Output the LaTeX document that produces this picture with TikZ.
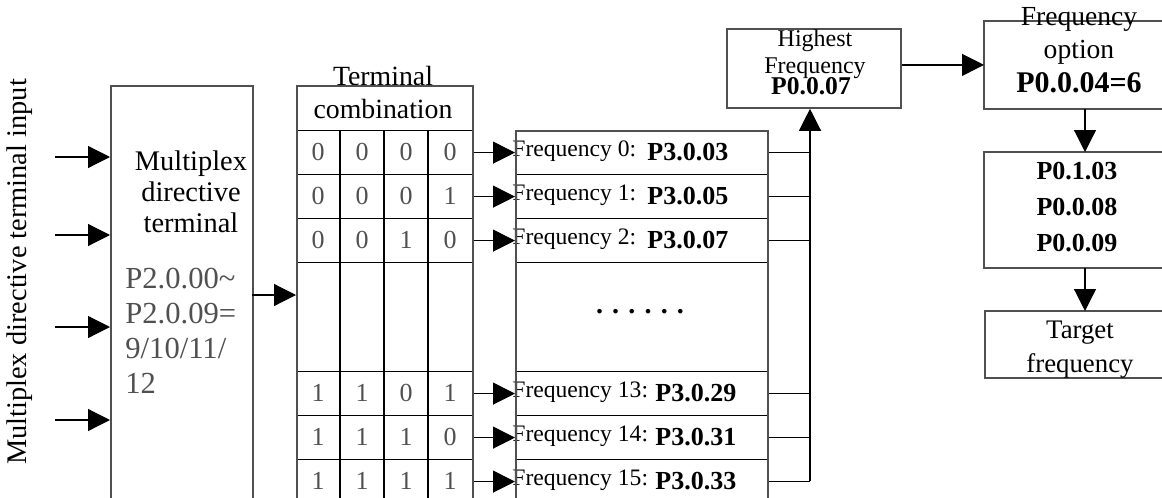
\documentclass[tikz,border=0pt]{standalone}
\usepackage{fontspec}
\setmainfont{Liberation Serif}
\usepackage{tikz}
\usetikzlibrary{positioning}
\usetikzlibrary{calc}
\usetikzlibrary{arrows.meta}

\definecolor{boxgray}{RGB}{80,80,80}
\definecolor{txtgray}{RGB}{80,80,80}

\begin{document}
\begin{tikzpicture}[x=0.5pt, y=-0.5pt,
    box/.style={draw=boxgray, line width=0.9pt, inner sep=0pt, anchor=north west},
    openbox/.style={inner sep=0pt, anchor=north west, minimum width=150pt},
    cell/.style={draw=black, line width=0.6pt, inner sep=0pt, anchor=north west, minimum width=88pt},
    arr/.style={-{Triangle[length=11pt,width=11pt]}, line width=0.6pt},
    digit/.style={text=txtgray, font=\fontsize{13}{14}\selectfont},
    freqlbl/.style={anchor=west, inner sep=0pt, font=\fontsize{11.8}{13}\selectfont},
    freqval/.style={anchor=west, inner sep=0pt, font=\fontsize{13}{14}\selectfont\bfseries}]

    \useasboundingbox (0,0) rectangle (1162,498);
    \clip (0,0) rectangle (1162,498);

    % inputs
    \node[rotate=90, font=\fontsize{14.2}{16}\selectfont] (inlbl) at (20,272) {Multiplex directive terminal input};
    \node[box, minimum width=71pt, minimum height=220pt] (mux) at (110,85) {};
    \foreach \y [count=\i] in {157,235,327,420} {
        \coordinate (in\i) at (55,\y);
        \draw[arr] (in\i) -- (in\i -| mux.west);
    }
    \node[align=center, font=\fontsize{14.2}{15.5}\selectfont] (muxname) at (191,192) {Multiplex\\directive\\terminal};
    \node[align=left, anchor=north west, inner sep=0pt, text=txtgray, font=\fontsize{15.3}{17.5}\selectfont] (muxpar) at (125,268) {P2.0.00\textasciitilde\\P2.0.09=\\9/10/11/\\12};

    % terminal combination table
    \node[cell, minimum height=22.5pt] (thead) at (296,85) {};
    \node[align=center, font=\fontsize{13.9}{16.5}\selectfont] (theadlbl) at (383,92) {Terminal\\combination};
    \node[cell, minimum height=54.5pt] (tg) at (296,262) {};
    \node[cell, minimum width=126pt, minimum height=54.5pt] (fg) at (515,262) {};
    \node[font=\fontsize{14}{15}\selectfont\bfseries] (dots) at (640,312) {.\hspace{4.6pt}.\hspace{4.6pt}.\hspace{4.6pt}.\hspace{4.6pt}.\hspace{4.6pt}.};
    \coordinate (bus) at (810,481);

    \foreach \r/\top/\bits/\v/\vx in {0/130/{0,0,0,0}/03/647, 1/174/{0,0,0,1}/05/647, 2/218/{0,0,1,0}/07/647,
                                     13/371/{1,1,0,1}/29/655, 14/415/{1,1,1,0}/31/655, 15/459/{1,1,1,1}/33/655} {
        \node[cell, minimum height=22pt] (t\r) at (296,\top) {};
        \node[cell, minimum width=126pt, minimum height=22pt] (f\r) at (515,\top) {};
        \foreach \b [count=\c] in \bits
            \node[digit] at ({274+44*\c},{\top+22}) {\b};
        \draw[arr] (t\r.east) -- (f\r.west);
        \node[freqlbl] (fl\r) at (512,{\top+21}) {Frequency \r:};
        \node[freqval] (fv\r) at (\vx,{\top+22}) {P3.0.\v};
        \draw[line width=0.6pt] (f\r.east) -- (f\r.east -| bus);
    }
    \foreach \x in {340,384,428}
        \draw[line width=0.6pt] (\x,130) -- (\x,520);
    \node[box, minimum width=88pt, minimum height=220pt] (tab) at (296,85) {};
    \node[box, minimum width=126pt, minimum height=200pt] (freq) at (515,130) {};

    \coordinate (muxout) at (252,295);
    \draw[arr] (muxout) -- (muxout -| tab.west);

    % right side
    \node[box, minimum width=87pt, minimum height=39.5pt] (hi) at (726,28) {};
    \node[align=center, font=\fontsize{12}{13.5}\selectfont] (hilbl) at (815,54) {Highest\\Frequency};
    \node[font=\fontsize{12.8}{14}\selectfont\bfseries] (hival) at (811,86) {P0.0.07};
    \draw[arr] (bus) -- (bus |- hi.south);

    \node[openbox, minimum height=43.5pt] (fo) at (984,21) {};
    \node[openbox, minimum height=57.5pt] (pb) at (984,152) {};
    \node[openbox, minimum height=33pt] (tgt) at (985,311) {};
    \foreach \n in {fo,pb,tgt}
        \draw[draw=boxgray, line width=0.9pt] (\n.north east) -- (\n.north west) -- (\n.south west) -- (\n.south east);

    \node[align=center, font=\fontsize{13.8}{16.5}\selectfont] (folbl) at (1079,36) {Frequency\\option};
    \node[font=\fontsize{15}{16}\selectfont\bfseries] (foval) at (1079,83) {P0.0.04=6};
    \draw[arr] (fo.west -| hi.east) -- (fo.west);
    \node[align=center, font=\fontsize{13}{18}\selectfont\bfseries] (pblbl) at (1077,207) {P0.1.03\\P0.0.08\\P0.0.09};
    \node[align=center, font=\fontsize{13.4}{17}\selectfont] (tgtlbl) at (1080,350) {Target\\frequency};

    \coordinate (down) at (1085,0);
    \draw[arr] (fo.south -| down) -- (pb.north -| down);
    \draw[arr] (pb.south -| down) -- (tgt.north -| down);

\end{tikzpicture}
\end{document}
